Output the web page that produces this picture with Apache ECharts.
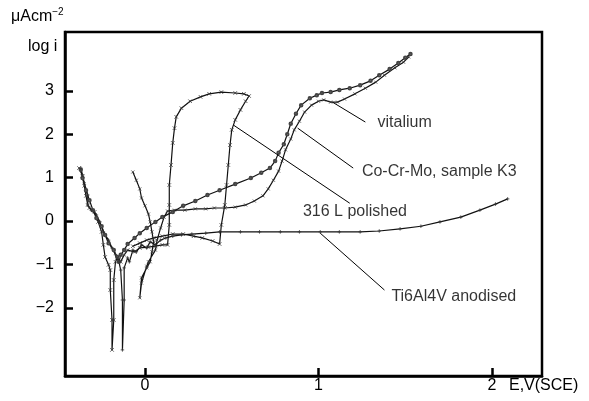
<!DOCTYPE html>
<html>
<head>
<meta charset="utf-8">
<script src="https://cdn.jsdelivr.net/npm/echarts@6/dist/echarts.min.js"></script>
<style>
  html, body { margin: 0; padding: 0; background: #fff; }
  #chart { width: 589px; height: 401px; }
</style>
</head>
<body>
<div id="chart"></div>
<script>
// Potentiodynamic polarisation curves: potential E (V vs SCE) against log current density.
var xTicks = [0, 1, 2];
var yTicks = [-2, -1, 0, 1, 2, 3];

// [E, log i]
var vitalium = [
  [-0.37,1.18],[-0.36,0.99],[-0.34,0.71],[-0.32,0.48],[-0.30,0.25],[-0.28,0.07],[-0.25,-0.12],
  [-0.23,-0.32],[-0.21,-0.51],[-0.18,-0.67],[-0.16,-0.83],[-0.15,-0.94],[-0.14,-0.78],[-0.12,-0.67],
  [-0.10,-0.53],[-0.06,-0.39],[-0.03,-0.28],[0.01,-0.16],[0.06,-0.02],[0.10,0.09],[0.16,0.21],
  [0.22,0.35],[0.29,0.46],[0.36,0.60],[0.43,0.71],[0.52,0.85],[0.61,0.99],[0.67,1.11],[0.72,1.22],
  [0.75,1.38],[0.77,1.57],[0.80,1.77],[0.82,2.00],[0.84,2.24],[0.87,2.47],[0.90,2.67],[0.95,2.83],
  [0.99,2.90],[1.02,2.95],[1.07,2.97],[1.12,3.02],[1.18,3.06],[1.24,3.13],[1.30,3.23],[1.35,3.36],
  [1.41,3.50],[1.46,3.64],[1.50,3.76],[1.53,3.85]
];
var coCrMoK3 = [
  [-0.07,1.13],[-0.05,0.94],[-0.03,0.74],[-0.02,0.53],[0.00,0.35],[0.02,0.16],[0.03,-0.02],
  [0.04,-0.25],[0.05,-0.48],[0.04,-0.71],[0.03,-0.94],[0.01,-1.08],[-0.02,-1.31],[-0.03,-1.77],
  [-0.02,-1.43],[0.01,-1.04],[0.02,-0.94],[0.06,-0.67],[0.07,-0.44],[0.09,-0.16],[0.11,0.09],
  [0.13,0.23],[0.17,0.25],[0.23,0.25],[0.29,0.28],[0.35,0.28],[0.40,0.30],[0.46,0.30],[0.52,0.32],
  [0.58,0.37],[0.63,0.46],[0.68,0.58],[0.71,0.74],[0.74,0.94],[0.77,1.15],[0.79,1.38],[0.81,1.64],
  [0.84,1.89],[0.86,2.10],[0.89,2.30],[0.92,2.51],[0.96,2.67],[1.00,2.76],[1.03,2.79],[1.07,2.74],
  [1.11,2.74],[1.15,2.81],[1.21,2.93],[1.27,3.06],[1.33,3.20],[1.38,3.36],[1.44,3.53],[1.49,3.66],
  [1.52,3.78]
];
var steel316L = [
  [-0.38,1.22],[-0.36,1.04],[-0.35,0.81],[-0.34,0.58],[-0.33,0.37],[-0.32,0.30],[-0.29,0.21],
  [-0.27,-0.02],[-0.25,-0.25],[-0.24,-0.55],[-0.23,-0.83],[-0.21,-1.01],[-0.20,-1.13],[-0.20,-1.59],
  [-0.19,-2.28],[-0.19,-2.97],[-0.18,-2.28],[-0.18,-1.36],[-0.17,-0.94],[-0.16,-0.85],[-0.14,-0.94],
  [-0.12,-0.78],[-0.10,-0.67],[-0.06,-0.71],[-0.03,-0.62],[0.02,-0.60],[0.06,-0.58],[0.10,-0.55],
  [0.13,-0.55],[0.14,-0.09],[0.14,0.37],[0.14,0.83],[0.15,1.29],[0.16,1.80],[0.17,2.14],[0.18,2.40],
  [0.21,2.60],[0.26,2.76],[0.32,2.86],[0.37,2.93],[0.44,2.97],[0.52,2.95],[0.57,2.93],[0.60,2.88],
  [0.58,2.76],[0.55,2.56],[0.52,2.33],[0.50,2.10],[0.49,1.75],[0.48,1.29],[0.47,0.83],[0.46,0.37],
  [0.44,-0.09],[0.43,-0.53],[0.39,-0.46],[0.33,-0.39],[0.28,-0.35],[0.22,-0.30],[0.16,-0.30],
  [0.10,-0.35],[0.05,-0.39],[0.01,-0.44],[-0.03,-0.51],[-0.07,-0.58]
];
var ti6Al4V = [
  [-0.37,1.22],[-0.36,1.06],[-0.35,0.88],[-0.33,0.60],[-0.33,0.37],[-0.31,0.25],[-0.28,0.14],
  [-0.26,-0.02],[-0.24,-0.25],[-0.21,-0.44],[-0.19,-0.62],[-0.17,-0.78],[-0.15,-0.94],[-0.14,-1.13],
  [-0.13,-1.82],[-0.13,-2.97],[-0.12,-1.82],[-0.12,-1.08],[-0.10,-0.85],[-0.09,-0.94],[-0.07,-0.67],
  [-0.05,-0.71],[-0.02,-0.55],[0.01,-0.62],[0.03,-0.48],[0.06,-0.55],[0.09,-0.44],[0.12,-0.39],
  [0.16,-0.35],[0.21,-0.32],[0.27,-0.30],[0.35,-0.28],[0.43,-0.25],[0.55,-0.25],[0.66,-0.25],
  [0.78,-0.25],[0.89,-0.25],[1.01,-0.25],[1.12,-0.25],[1.24,-0.25],[1.35,-0.23],[1.47,-0.18],
  [1.59,-0.12],[1.70,-0.02],[1.82,0.09],[1.93,0.25],[2.02,0.39],[2.09,0.51]
];

// Annotation leaders: [point on curve, end near label]
var leaders = [
  [[1.08,2.74],[1.27,2.28]],
  [[0.88,2.14],[1.20,1.22]],
  [[0.51,2.21],[1.18,0.41]],
  [[1.01,-0.28],[1.38,-1.59]]
];
var labelNames = ['vitalium', 'Co-Cr-Mo, sample K3', '316 L polished', 'Ti6Al4V anodised'];
var labelPos = [[1.34,2.26],[1.25,1.13],[0.91,0.21],[1.42,-1.73]];

var FONT = '"Liberation Sans", Arial, Helvetica, sans-serif';
var FS = 16;

function curve(name, data, symbol, size) {
  return {
    name: name, type: 'line', data: data, smooth: false,
    symbol: symbol, symbolSize: size, showSymbol: true, showAllSymbol: true,
    lineStyle: { color: '#111', width: 1.2 },
    itemStyle: { color: '#444', borderColor: '#333', borderWidth: 0.8 },
    z: 3
  };
}

var series = [
  curve('vitalium', vitalium, 'emptyCircle', 2.5),
  curve('Co-Cr-Mo, sample K3', coCrMoK3, 'path://M0,0L10,10M10,0L0,10', 3),
  curve('316 L polished', steel316L, 'path://M0,0L10,10M10,0L0,10', 3.5),
  curve('Ti6Al4V anodised', ti6Al4V, 'path://M5,0L5,10M0,5L10,5', 3.5)
];

leaders.forEach(function (seg) {
  series.push({
    type: 'line', data: seg, symbol: 'none', silent: true,
    lineStyle: { color: '#000', width: 1 }, z: 4
  });
});

series.push({
  type: 'scatter', symbolSize: 0, silent: true, z: 5,
  data: labelPos.map(function (p, i) { return { value: p, name: labelNames[i] }; }),
  label: {
    show: true, position: 'right', distance: 0,
    formatter: function (p) { return p.name; },
    color: '#000', fontSize: FS, fontFamily: FONT
  }
});

var chart = echarts.init(document.getElementById('chart'), null, { renderer: 'canvas' });
chart.setOption({
  animation: false,
  backgroundColor: '#fff',
  grid: {
    left: 65, top: 32, width: 477, height: 344,
    show: true, borderColor: '#000', borderWidth: 2.5, backgroundColor: 'transparent'
  },
  xAxis: {
    type: 'value', min: -0.461, max: 2.288,
    axisLine: { show: true, onZero: false, lineStyle: { color: '#000', width: 2.5 } },
    axisTick: { show: true, inside: true, length: 8, lineStyle: { color: '#000', width: 2.5 }, customValues: xTicks },
    axisLabel: { show: true, margin: 2, color: '#000', fontSize: FS, fontFamily: FONT, customValues: xTicks },
    splitLine: { show: false }
  },
  yAxis: {
    type: 'value', min: -3.571, max: 4.355,
    axisLine: { show: true, onZero: false, lineStyle: { color: '#000', width: 2.5 } },
    axisTick: { show: true, inside: true, length: 8, lineStyle: { color: '#000', width: 2.5 }, customValues: yTicks },
    axisLabel: {
      show: true, margin: 11, color: '#000', fontSize: FS, fontFamily: FONT, customValues: yTicks,
      formatter: function (v) { return String(v).replace('-', '\u2212'); }
    },
    splitLine: { show: false }
  },
  graphic: [
    {
      type: 'text', left: 11, top: 7,
      style: {
        text: '\u03bcAcm{sup|\u22122}', fill: '#000', font: FS + 'px ' + FONT,
        rich: { sup: { fontSize: 10, fontFamily: FONT, verticalAlign: 'top', padding: [0, 0, 9, 0] } }
      }
    },
    { type: 'text', left: 28, top: 39, style: { text: 'log i', fill: '#000', font: FS + 'px ' + FONT } },
    { type: 'text', left: 509, top: 378, style: { text: 'E,V(SCE)', fill: '#000', font: FS + 'px ' + FONT } }
  ],
  series: series
});
</script>
</body>
</html>
